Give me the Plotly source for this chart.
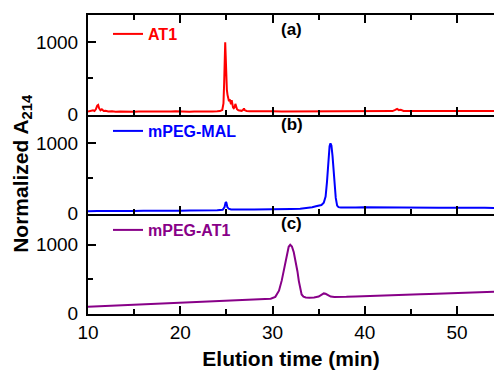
import plotly.graph_objects as go
from plotly.subplots import make_subplots

# ---------------- data ----------------
at1_time = [10.0, 10.2, 10.4, 10.55, 10.7, 10.85, 11.0, 11.1, 11.2, 11.35, 11.5, 11.7, 11.9, 12.2, 12.6,
            13.0, 13.5, 14.0, 14.5, 15.0, 15.5, 16.0, 16.5, 17.0, 17.5, 18.0, 18.5, 19.0, 19.5, 20.0,
            20.5, 21.0, 21.5, 22.0, 22.5, 23.0, 23.5, 24.0, 24.3, 24.55, 24.68, 24.76, 24.83, 24.87,
            24.92, 24.98, 25.05, 25.12, 25.2, 25.28, 25.35, 25.42, 25.5, 25.57, 25.64, 25.72, 25.8,
            25.9, 25.97, 26.05, 26.15, 26.3, 26.5, 26.65, 26.8, 26.9, 27.0, 27.2, 27.5, 28, 29, 30,
            31, 32, 33, 34, 35, 36, 37, 38, 39, 40, 41, 42, 43.0, 43.3, 43.5, 43.7, 43.9, 44.2, 45,
            46, 47, 48, 49, 50, 51, 52, 53, 54]
at1_signal = [40, 45, 60, 55, 45, 70, 120, 130, 85, 55, 70, 45, 50, 38, 42,
              36, 40, 37, 39, 36, 40, 38, 35, 39, 37, 40, 36, 38, 41, 37,
              39, 36, 40, 38, 41, 37, 40, 42, 45, 60, 150, 450, 900, 1000,
              820, 520, 340, 270, 230, 180, 210, 160, 140, 195, 120, 95, 85,
              100, 145, 95, 70, 55, 50, 48, 60, 80, 55, 45, 42, 40, 38, 41,
              39, 40, 42, 39, 41, 40, 42, 40, 41, 43, 41, 42, 44, 60, 75, 58, 62, 46, 43,
              45, 44, 45, 46, 45, 46, 47, 46, 47]

mal_time = [10, 10.5, 11, 12, 13, 14, 15, 16, 17, 18, 19, 20, 21, 22, 23, 24, 24.6, 24.8, 24.92, 25.0,
            25.1, 25.25, 25.5, 26, 27, 28, 29, 30, 31, 32, 33, 33.8, 34.3, 34.7, 35.0, 35.3, 35.55,
            35.75, 35.9, 36.05, 36.18, 36.28, 36.38, 36.5, 36.62, 36.72, 36.85, 37.0, 37.15, 37.4,
            38, 39, 40, 41, 42, 43, 44, 45, 46, 47, 48, 49, 50, 51, 52, 53, 54]
mal_signal = [30, 35, 32, 34, 31, 35, 33, 36, 34, 37, 38, 36, 40, 38, 42, 44, 50, 90, 160, 150,
              90, 65, 55, 52, 54, 56, 55, 58, 60, 62, 66, 75, 88, 100, 108, 118, 150,
              240, 450, 780, 960, 1000, 970, 820, 600, 420, 220, 110, 88, 82,
              80, 82, 85, 83, 82, 84, 81, 80, 82, 80, 79, 81, 83, 80, 79, 78, 77]

conj_time = [10, 10.5, 11, 11.5, 12, 13, 14, 15, 16, 17, 18, 19, 20, 21, 22, 23, 24, 25, 26, 27, 28, 29,
             29.8, 30.3, 30.7, 31.0, 31.3, 31.55, 31.75, 31.92, 32.1, 32.3, 32.5, 32.7, 32.85, 33.0,
             33.15, 33.35, 33.6, 34.0, 34.5, 35.0, 35.3, 35.55, 35.75, 36.0, 36.3, 36.7, 37.2, 38,
             39, 40, 41, 42, 43, 44, 45, 46, 47, 48, 49, 50, 51, 52, 53, 54]
conj_signal = [95, 98, 102, 100, 108, 114, 118, 126, 130, 138, 145, 151, 158, 164, 170, 176, 181, 186, 190,
               194, 199, 204, 212, 240, 330, 480, 690, 870, 970, 1000, 975, 890, 760, 610, 470, 350,
               275, 242, 232, 228, 230, 245, 268, 290, 285, 262, 245, 238, 236, 240,
               246, 252, 257, 261, 266, 270, 274, 278, 282, 287, 291, 296, 301, 305, 310, 316]

series_names = ["AT1", "mPEG-MAL", "mPEG-AT1"]
series_colors = ["#FF0000", "#0000FF", "#880088"]
panel_labels = ["(a)", "(b)", "(c)"]
y_ranges = [[-10, 1380], [-10, 1404], [-10, 1448]]
x_range = [10, 54]

# ---------------- figure ----------------
FONT = "Liberation Sans, Arial, sans-serif"
fig = make_subplots(rows=3, cols=1, shared_xaxes=False, vertical_spacing=0)

series = [(at1_time, at1_signal), (mal_time, mal_signal), (conj_time, conj_signal)]
legend_ids = ["legend", "legend2", "legend3"]
for i, ((tx, sy), name, col) in enumerate(zip(series, series_names, series_colors)):
    fig.add_trace(go.Scatter(x=tx, y=sy, mode="lines", name=name,
                             line=dict(color=col, width=2), legend=legend_ids[i]),
                  row=i + 1, col=1)

H = 299.0
doms = [[199 / H, 1.0], [100 / H, 199 / H], [0.0, 100 / H]]
for i in range(3):
    xa = "xaxis" if i == 0 else f"xaxis{i+1}"
    ya = "yaxis" if i == 0 else f"yaxis{i+1}"
    fig.layout[xa].update(
        range=x_range, showline=True, linecolor="black", linewidth=2,
        mirror="ticks" if i == 0 else False,
        ticks="inside", ticklen=8, tickwidth=2, tickcolor="black",
        tick0=0, dtick=10, showgrid=False, zeroline=False,
        minor=dict(ticks="inside", ticklen=5, tickwidth=2, tickcolor="black", dtick=5, showgrid=False),
        showticklabels=(i == 2), automargin=False,
        tickfont=dict(family=FONT, size=19, color="black"),
    )
    fig.layout[ya].update(
        domain=doms[i], range=y_ranges[i], showline=True, linecolor="black", linewidth=2,
        ticks="inside", ticklen=8, tickwidth=2, tickcolor="black",
        tickvals=[0, 1000], showgrid=False, zeroline=False,
        minor=dict(ticks="inside", ticklen=5, tickwidth=2, tickcolor="black", tickvals=[500], showgrid=False),
        automargin=False, ticklabelstandoff=4,
        tickfont=dict(family=FONT, size=19, color="black"),
    )

fig.layout.xaxis3.title = dict(text="Elution time (min)", standoff=14,
                               font=dict(family=FONT, size=21, color="black", weight="bold"))

# panel labels
for i, lab in enumerate(panel_labels):
    ax = "" if i == 0 else str(i + 1)
    yv = [1185, 1262, 1306][i]
    fig.add_annotation(x=32.1, y=yv, xref="x" + ax, yref="y" + ax, text=lab, showarrow=False,
                       font=dict(family=FONT, size=17, color="black", weight="bold"))

# y title
fig.add_annotation(x=-0.163, y=(314 - 173) / H, xref="paper", yref="paper",
                   text="Normalized A<sub>214</sub>", textangle=-90, showarrow=False,
                   xanchor="center", yanchor="middle",
                   font=dict(family=FONT, size=21, color="black", weight="bold"))

# legends
leg_y_px = [34, 131, 230]
for i in range(3):
    lid = legend_ids[i]
    fig.layout[lid] = dict(x=(108 - 88) / 406.0, xanchor="left", y=(314 - leg_y_px[i]) / H,
                           yanchor="middle", bgcolor="rgba(0,0,0,0)", borderwidth=0,
                           font=dict(family=FONT, size=16, color=series_colors[i], weight="bold"))

fig.update_layout(width=494, height=370, margin=dict(l=88, r=0, t=15, b=56, autoexpand=False),
                  plot_bgcolor="white", paper_bgcolor="white", showlegend=True,
                  font=dict(family=FONT, color="black"))

fig.write_html("out.html", config={"displayModeBar": False},
               post_script="document.body.style.margin='0';document.body.style.overflow='hidden';")
